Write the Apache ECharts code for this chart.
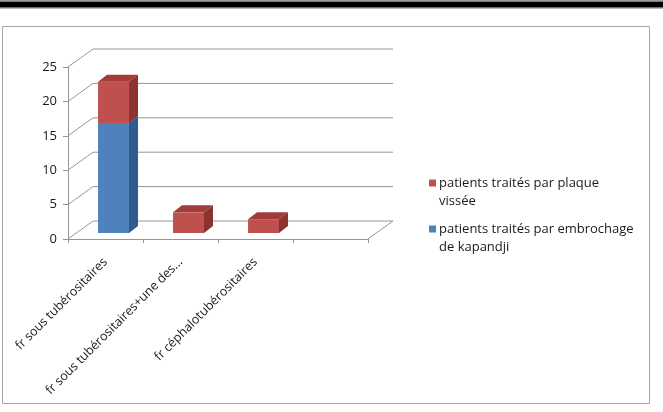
<!DOCTYPE html>
<html>
<head>
<meta charset="utf-8">
<script src="https://cdn.jsdelivr.net/npm/echarts@6/dist/echarts.min.js"></script>
<style>
html,body{margin:0;padding:0;background:#fff;}
#chart{width:663px;height:412px;}
</style>
</head>
<body>
<div id="chart"></div>
<script>
// ---- data ----
const categories = ['fr sous tubérositaires', 'fr sous tubérositaires+une des...', 'fr céphalotubérositaires', ''];
const seriesNames = ['patients traités par embrochage de kapandji', 'patients traités par plaque vissée'];
const kapandji = [16, 0, 0, null];
const plaque = [6, 3, 2, null];
const yTicks = [0, 5, 10, 15, 20, 25];

// ---- style constants ----
const FONT = '"Open Sans", "Liberation Sans", sans-serif';
const WALL_DX = 25, WALL_DY = -18;
const GRID_COLOR = '#969696';
const BLUE = {front: '#4f81bd', side: '#2f5b8e', top: '#6b95c9'};
const RED = {front: '#c0504d', side: '#8c3230', top: '#a23c39'};

function stackData(base, vals) {
  return vals.map((v, i) => {
    const s = base ? (base[i] || 0) : 0;
    return [i, s, v == null ? s : s + v];
  });
}

function barRenderer(col) {
  return function (params, api) {
    const i = api.value(0), s = api.value(1), e = api.value(2);
    if (!(e > s)) return null;
    const band = api.size([1, 0])[0];
    const p0 = api.coord([i, s]);
    const p1 = api.coord([i, e]);
    const w = band * 0.413;
    const ox = band * 0.107, oy = -6;
    const dx = 9, dy = -7;
    const x = p0[0] + ox - w / 2;
    const yb = p0[1] + oy, yt = p1[1] + oy;
    return {
      type: 'group',
      children: [
        {type: 'rect', shape: {x: x, y: yt, width: w, height: yb - yt}, style: {fill: col.front}},
        {type: 'polygon', shape: {points: [[x + w, yt], [x + w + dx, yt + dy], [x + w + dx, yb + dy], [x + w, yb]]}, style: {fill: col.side}},
        {type: 'polygon', shape: {points: [[x, yt], [x + dx, yt + dy], [x + w + dx, yt + dy], [x + w, yt]]}, style: {fill: col.top}}
      ]
    };
  };
}

function wallRenderer(params, api) {
  const cs = params.coordSys;
  const v = api.value(1);
  const y = api.coord([0, v])[1];
  const x0 = cs.x, x1 = cs.x + cs.width;
  const children = [{
    type: 'polyline',
    shape: {points: [[x0, y], [x0 + WALL_DX, y + WALL_DY], [x1 + WALL_DX, y + WALL_DY]]},
    style: {stroke: GRID_COLOR, lineWidth: 1, fill: null}
  }];
  if (v === 0) {
    children.push({
      type: 'line',
      shape: {x1: x1, y1: y, x2: x1 + WALL_DX, y2: y + WALL_DY},
      style: {stroke: GRID_COLOR, lineWidth: 1}
    });
  }
  return {type: 'group', children: children};
}

const legendIcon = 'path://M0,0L0.001,0M0,5.5L7,5.5L7,12.5L0,12.5ZM0,36L0.001,36';

const chart = echarts.init(document.getElementById('chart'), null, {renderer: 'canvas'});
chart.setOption({
  animation: false,
  backgroundColor: '#ffffff',
  textStyle: {fontFamily: FONT},
  graphic: [
    {type: 'rect', shape: {x: 0, y: 0, width: 663, height: 1}, style: {fill: '#9a9a9a'}, silent: true},
    {type: 'rect', shape: {x: 0, y: 1.5, width: 663, height: 5.5}, style: {fill: '#000000'}, silent: true},
    {type: 'rect', shape: {x: 0, y: 7, width: 663, height: 1.5}, style: {fill: '#6e6e6e'}, silent: true},
    {type: 'rect', shape: {x: 2.5, y: 26.5, width: 647, height: 377}, style: {fill: null, stroke: '#a6a6a6', lineWidth: 1}, silent: true}
  ],
  grid: {left: 68, top: 67, width: 300, height: 172},
  legend: {
    orient: 'vertical',
    left: 429,
    top: 174,
    padding: 0,
    itemWidth: 7,
    itemHeight: 36,
    itemGap: 10,
    icon: legendIcon,
    data: [seriesNames[1], seriesNames[0]],
    formatter: function (name) {
      return name.replace(' vissée', '\nvissée').replace(' de kapandji', '\nde kapandji');
    },
    textStyle: {fontFamily: FONT, fontSize: 13, color: '#1a1a1a', lineHeight: 18, padding: [0, 0, 0, -2]}
  },
  xAxis: {
    type: 'category',
    data: categories,
    axisLine: {lineStyle: {color: GRID_COLOR}},
    axisTick: {show: true, alignWithLabel: false, length: 4, lineStyle: {color: GRID_COLOR}},
    axisLabel: {interval: 0, rotate: 45, margin: 21, fontSize: 12.5, color: '#1a1a1a', fontFamily: FONT},
    splitLine: {show: false}
  },
  yAxis: {
    type: 'value',
    min: 0, max: 25, interval: 5,
    axisLine: {show: true, lineStyle: {color: GRID_COLOR}},
    axisTick: {show: true, length: 5, lineStyle: {color: GRID_COLOR}},
    axisLabel: {margin: 11, fontSize: 13, color: '#1a1a1a', fontFamily: FONT},
    splitLine: {show: false}
  },
  series: [
    {
      type: 'custom', name: 'wall', silent: true, z: 1,
      renderItem: wallRenderer,
      data: yTicks.map(v => [0, v]),
      encode: {x: 0, y: 1}
    },
    {
      type: 'custom', name: seriesNames[0], z: 3,
      itemStyle: {color: BLUE.front},
      renderItem: barRenderer(BLUE),
      data: stackData(null, kapandji),
      encode: {x: 0, y: [1, 2]}
    },
    {
      type: 'custom', name: seriesNames[1], z: 4,
      itemStyle: {color: RED.front},
      renderItem: barRenderer(RED),
      data: stackData(kapandji, plaque),
      encode: {x: 0, y: [1, 2]}
    }
  ]
});
</script>
</body>
</html>
